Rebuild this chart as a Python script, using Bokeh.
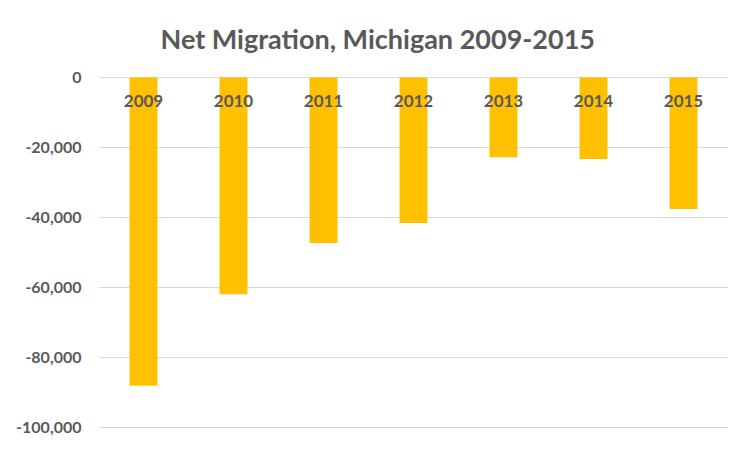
from bokeh.plotting import figure
from bokeh.models import NumeralTickFormatter, FixedTicker, Range1d
from bokeh.core.properties import value
from bokeh.embed import file_html
from bokeh.resources import INLINE

years = ["2009", "2010", "2011", "2012", "2013", "2014", "2015"]
net_migration = [-88100, -61900, -47300, -41600, -22800, -23300, -37600]
y_ticks = [0, -20000, -40000, -60000, -80000, -100000]

FONT = "Lato"
GREY = "#595959"

p = figure(x_range=years, y_range=Range1d(-102000, 2000), width=742, height=443,
           output_backend="svg", toolbar_location=None,
           min_border_left=98, min_border_right=14, min_border_bottom=9, min_border_top=70)

p.vbar(x=years, top=net_migration, bottom=0, width=0.31, color="#FFC000", line_color=None)

p.text(x=years, y=[0] * len(years), text=years, text_align="center", text_baseline="middle",
       y_offset=23, text_font=value(FONT), text_font_style="bold", text_font_size="17px",
       text_color=GREY)

p.title.text = "Net Migration, Michigan 2009-2015"
p.title.align = "left"
p.title.offset = 62
p.title.text_font = FONT
p.title.text_font_size = "27px"
p.title.text_font_style = "bold"
p.title.text_color = GREY
p.title.standoff = 27
p.title.vertical_align = "top"

p.xaxis.visible = False
p.yaxis.ticker = FixedTicker(ticks=y_ticks)
p.yaxis.formatter = NumeralTickFormatter(format="0,0")
p.yaxis.axis_line_color = None
p.yaxis.major_tick_line_color = None
p.yaxis.minor_tick_line_color = None
p.yaxis.major_label_text_font = FONT
p.yaxis.major_label_text_font_style = "bold"
p.yaxis.major_label_text_font_size = "16px"
p.yaxis.major_label_text_color = GREY
p.yaxis.major_label_standoff = 11

p.xgrid.grid_line_color = None
p.ygrid.grid_line_color = "#D9D9D9"
p.ygrid.grid_line_width = 1
p.outline_line_color = None
p.background_fill_color = "white"
p.border_fill_color = "white"

open("out.html", "w").write(file_html(p, INLINE))
